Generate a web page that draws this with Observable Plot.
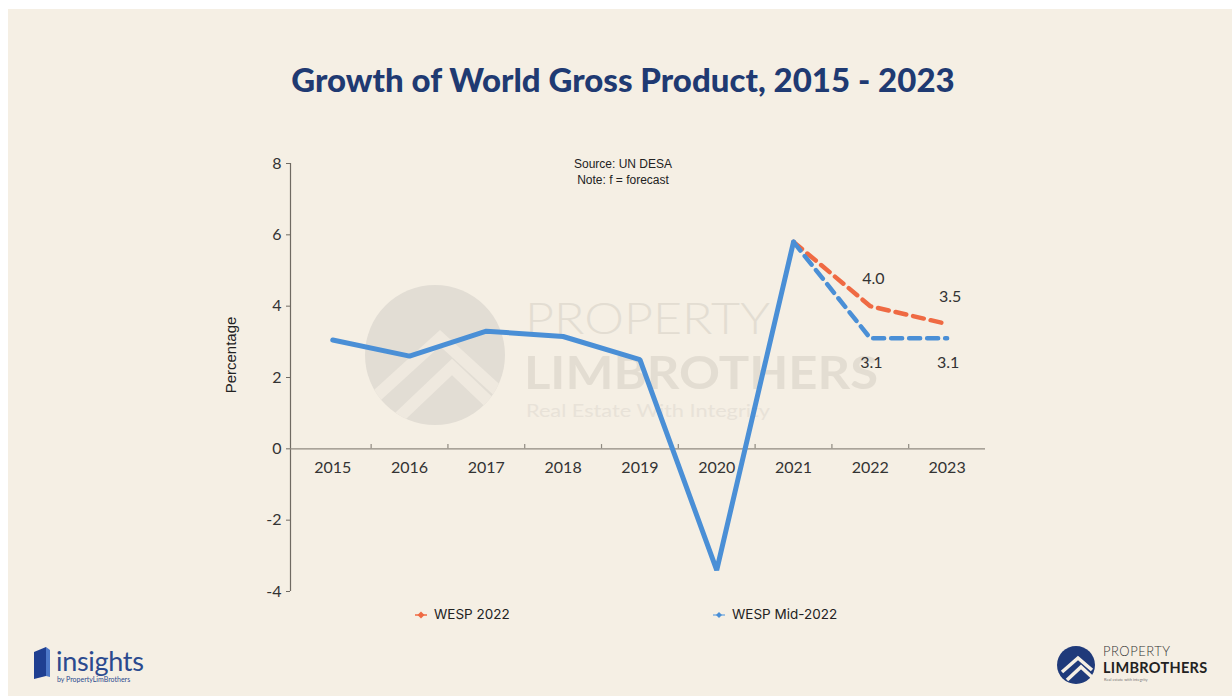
<!DOCTYPE html>
<html>
<head>
<meta charset="utf-8">
<script src="https://cdn.jsdelivr.net/npm/d3@7"></script>
<script src="https://cdn.jsdelivr.net/npm/@observablehq/plot@0.6"></script>
<style>
  html, body { margin: 0; padding: 0; background: #ffffff; }
  #root { position: relative; width: 1232px; height: 696px; overflow: hidden; background: #ffffff; }
  #panel { position: absolute; left: 8px; top: 9px; width: 1224px; height: 687px; background: #f5efe4; }
  .abs { position: absolute; white-space: nowrap; line-height: 1; }
  #title { left: 0; width: 1246px; top: 63px; text-align: center; font-family: Lato, sans-serif; font-weight: 900; font-size: 33px; color: #1f3a72; }
  #source { left: 523px; width: 200px; top: 156px; text-align: center; font-family: "Liberation Sans", Arial, sans-serif; font-size: 12px; line-height: 16px; color: #222; }
  #ylabel { left: 230px; top: 355px; transform: translate(-50%, -50%) rotate(-90deg); font-family: "Liberation Sans", Arial, sans-serif; font-size: 15px; color: #222; }
  #chart { position: absolute; left: 0; top: 140px; }
  .leg { top: 608px; font-family: Inter, "Liberation Sans", sans-serif; font-size: 13.5px; color: #222; display: flex; align-items: center; }
  .leg svg { margin-right: 5px; }
  #wm { position: absolute; left: 0; top: 0; }
</style>
</head>
<body>
<div id="root">
  <div id="panel"></div>
  <svg id="wm" width="1232" height="696">
    <defs><clipPath id="cc"><circle cx="435" cy="355" r="70"></circle></clipPath></defs>
    <circle cx="435" cy="355" r="70" fill="#e2ddd4"></circle>
    <g clip-path="url(#cc)">
      <path d="M372 400 L440 338 L508 400" fill="none" stroke="#efe9df" stroke-width="12"></path>
      <path d="M392 424 L452 367 L512 424" fill="none" stroke="#efe9df" stroke-width="12"></path>
    </g>
    <text x="525" y="334" font-family="Lato" font-weight="300" font-size="44" fill="#e3ddd2" textLength="245" lengthAdjust="spacingAndGlyphs">PROPERTY</text>
    <text x="524" y="389" font-family="Lato" font-weight="700" font-size="46" fill="#e3ddd2" textLength="354" lengthAdjust="spacingAndGlyphs">LIMBROTHERS</text>
    <text x="526" y="417" font-family="Lato" font-size="17" fill="#e8e2d8" textLength="244" lengthAdjust="spacingAndGlyphs">Real Estate With Integrity</text>
  </svg>
  <div id="title" class="abs">Growth of World Gross Product, 2015 - 2023</div>
  <div id="source" class="abs">Source: UN DESA<br>Note: f = forecast</div>
  <div id="ylabel" class="abs">Percentage</div>
  <div id="chart"></div>
  <div class="abs leg" style="left:413px;">
    <svg width="16" height="10"><line x1="2" y1="5" x2="14" y2="5" stroke="#ef6a43" stroke-width="1.5"></line><path d="M8 1.5 L11.5 5 L8 8.5 L4.5 5 Z" fill="#ef6a43"></path></svg>WESP 2022
  </div>
  <div class="abs leg" style="left:711px;">
    <svg width="16" height="10"><line x1="2" y1="5" x2="14" y2="5" stroke="#7fb0e0" stroke-width="1.5"></line><path d="M8 2 L11 5 L8 8 L5 5 Z" fill="#4a8fd6"></path></svg>WESP Mid-2022
  </div>
  <!-- bottom-left logo -->
  <svg class="abs" style="left:32px; top:646px;" width="20" height="34">
    <path d="M2 6 L14 1 L14 30 L2 33 Z" fill="#1f3f91"></path>
    <path d="M14 1 L18 4 L18 31 L14 30 Z" fill="#4d78c8"></path>
  </svg>
  <div class="abs" style="left:56px; top:647px; font-family: Lato, sans-serif; font-size: 27px; color:#2b4a8f; letter-spacing:-0.3px;">insights</div>
  <div class="abs" style="left:57px; top:676px; font-family: Lato, sans-serif; font-size: 7px; color:#2b4a8f;">by PropertyLimBrothers</div>
  <!-- bottom-right logo -->
  <svg class="abs" style="left:1056px; top:644px;" width="42" height="42">
    <circle cx="20" cy="21" r="19" fill="#1f3a7a"></circle>
    <path d="M6 28 L22 14 L36 26" fill="none" stroke="#f5efe4" stroke-width="3.5"></path>
    <path d="M11 36 L25 23 L37 34" fill="none" stroke="#f5efe4" stroke-width="3.5"></path>
  </svg>
  <div class="abs" style="left:1103px; top:645px; font-family: Lato, sans-serif; font-weight:300; font-size: 13px; color:#333; letter-spacing:0.5px;">PROPERTY</div>
  <div class="abs" style="left:1103px; top:661px; font-family: Lato, sans-serif; font-weight:700; font-size: 14.5px; color:#222; letter-spacing:0.3px;">LIMBROTHERS</div>
  <div class="abs" style="left:1104px; top:678px; font-family: Lato, sans-serif; font-size: 4px; color:#777;">Real estate with integrity</div>
</div>
<script>
// ---- data ----
const years = [2015, 2016, 2017, 2018, 2019, 2020, 2021];
const growth = [3.05, 2.6, 3.3, 3.15, 2.5, -3.4, 5.8];
const forecastYears = [2021, 2022, 2023];
const wesp2022 = [5.8, 4.0, 3.5];
const wespMid2022 = [5.8, 3.1, 3.1];
const tickYears = [2015, 2016, 2017, 2018, 2019, 2020, 2021, 2022, 2023];
const yTicks = [-4, -2, 0, 2, 4, 6, 8];

const actual = years.map((y, i) => ({year: y, value: growth[i]}));
const fc1 = forecastYears.map((y, i) => ({year: y, value: wesp2022[i]}));
const fc2 = forecastYears.map((y, i) => ({year: y, value: wespMid2022[i]}));
const boundaries = tickYears.slice(0, -1).map(y => y + 0.5);

const BLUE = "#4a8fd6", ORANGE = "#ef6a43";
const fmt = d3.format(".1f");

const chart = Plot.plot({
  width: 1232,
  height: 460,
  marginLeft: 290,
  marginRight: 247,
  marginTop: 23,
  marginBottom: 9,
  style: {fontFamily: "Lato, sans-serif", fontSize: "16px", color: "#333", background: "transparent"},
  x: {domain: [2014.45, 2023.5], axis: null},
  y: {domain: [-4, 8], axis: null},
  marks: [
    Plot.ruleX([2014.45], {stroke: "#6f6a62", strokeWidth: 1.2}),
    Plot.ruleY([0], {stroke: "#8f8a80", strokeWidth: 1.3}),
    Plot.ruleX(boundaries, {x: d => d, y1: 0, y2: 0.12, stroke: "#8f8a80", strokeWidth: 1.2}),
    Plot.axisY({ticks: yTicks, tickFormat: d => String(d), tickSize: 4, tickPadding: 5, stroke: "#6f6a62", fill: "#333", fontSize: 16, label: null}),
    Plot.text(tickYears, {x: d => d, y: 0, dy: 19, text: d => String(d), fill: "#333", fontSize: 16}),
    Plot.line(fc1, {x: "year", y: "value", stroke: ORANGE, strokeWidth: 4.5, strokeDasharray: "11,7", strokeLinecap: "round"}),
    Plot.line(fc2, {x: "year", y: "value", stroke: BLUE, strokeWidth: 4.5, strokeDasharray: "11,7", strokeLinecap: "round"}),
    Plot.line(actual, {x: "year", y: "value", stroke: BLUE, strokeWidth: 5, strokeLinejoin: "miter"}),
    Plot.text(fc1.slice(1), {x: "year", y: "value", text: d => fmt(d.value), dy: -27, dx: 3, fill: "#333", fontSize: 16}),
    Plot.text(fc2.slice(1), {x: "year", y: "value", text: d => fmt(d.value), dy: 25, dx: 1, fill: "#333", fontSize: 16})
  ]
});
document.getElementById("chart").appendChild(chart);
</script>
</body>
</html>
